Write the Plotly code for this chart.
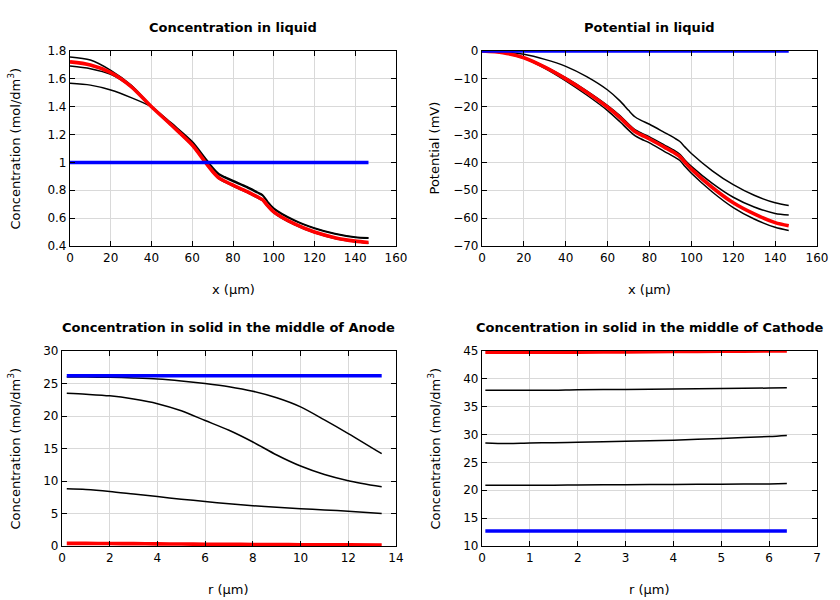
import plotly.graph_objects as go

# ---------------- data ----------------
# Liquid phase (x in µm)
x_liq = [0, 10, 20, 30, 40, 50, 60, 66, 70, 73, 76, 80, 87, 92, 94.5, 97, 100, 110, 120, 130, 140, 146.5]

conc_liq_init = [1.0] * len(x_liq)
conc_liq_t1 = [1.568, 1.555, 1.52, 1.465, 1.398, 1.272, 1.142, 1.03, 0.955, 0.912, 0.89, 0.863, 0.818, 0.781, 0.762, 0.715, 0.667, 0.582, 0.526, 0.486, 0.461, 0.455]
conc_liq_t2 = [1.692, 1.673, 1.632, 1.54, 1.398, 1.26, 1.12, 1.005, 0.93, 0.884, 0.858, 0.83, 0.783, 0.745, 0.726, 0.683, 0.638, 0.553, 0.494, 0.454, 0.43, 0.42]
conc_liq_t3 = [1.757, 1.735, 1.661, 1.555, 1.405, 1.28, 1.15, 1.04, 0.965, 0.92, 0.897, 0.87, 0.825, 0.787, 0.768, 0.72, 0.672, 0.587, 0.53, 0.49, 0.465, 0.46]
conc_liq_final = [1.722, 1.70, 1.645, 1.545, 1.40, 1.265, 1.125, 1.01, 0.935, 0.89, 0.865, 0.837, 0.79, 0.752, 0.733, 0.69, 0.645, 0.56, 0.50, 0.46, 0.435, 0.425]

pot_init = [0.0] * len(x_liq)
pot_t1 = [0, -0.3, -1.2, -3.0, -5.5, -9.2, -14.0, -18.0, -21.3, -23.6, -24.9, -26.3, -29.2, -31.3, -32.5, -34.5, -36.8, -43.0, -48.0, -51.8, -54.5, -55.5]
pot_t2 = [0, -0.55, -2.3, -5.5, -9.6, -14.3, -19.6, -23.3, -26.2, -28.2, -29.4, -30.8, -33.7, -35.8, -37.1, -39.2, -41.4, -47.5, -52.5, -56.0, -58.3, -58.9]
pot_t3 = [0, -0.7, -2.6, -6.2, -10.7, -15.8, -21.4, -25.5, -28.4, -30.4, -31.6, -33.0, -36.0, -38.1, -39.3, -41.5, -43.9, -50.6, -56.2, -60.3, -63.3, -64.4]
pot_final = [0, -0.6, -2.4, -5.8, -10.0, -14.8, -20.2, -24.0, -26.9, -28.9, -30.1, -31.6, -34.5, -36.6, -37.9, -40.0, -42.4, -49.0, -54.5, -58.5, -61.6, -62.7]

# Solid phase, anode particle (r in µm)
r_an = [0.2, 1, 2, 3, 4, 5, 6, 7, 8, 9, 10, 11, 12, 13.4]
an_init = [26.2] * len(r_an)
an_t1 = [26.0, 26.0, 25.95, 25.85, 25.7, 25.4, 25.0, 24.5, 23.8, 22.8, 21.4, 19.4, 17.3, 14.2]
an_t2 = [23.5, 23.35, 23.1, 22.6, 21.9, 20.8, 19.3, 17.8, 16.0, 14.0, 12.3, 11.0, 10.05, 9.1]
an_t3 = [8.8, 8.7, 8.4, 8.0, 7.6, 7.2, 6.85, 6.5, 6.2, 5.95, 5.75, 5.55, 5.35, 5.0]
an_final = [0.4, 0.4, 0.38, 0.36, 0.33, 0.3, 0.28, 0.26, 0.24, 0.22, 0.2, 0.18, 0.17, 0.15]

# Solid phase, cathode particle (r in µm)
r_ca = [0.07, 0.5, 1, 1.5, 2, 3, 4, 5, 6, 6.37]
ca_init = [12.7] * len(r_ca)
ca_t1 = [20.9, 20.9, 20.9, 20.9, 20.95, 21.0, 21.05, 21.1, 21.15, 21.2]
ca_t2 = [28.5, 28.4, 28.5, 28.55, 28.6, 28.8, 29.0, 29.3, 29.65, 29.85]
ca_t3 = [37.95, 37.95, 37.95, 37.95, 38.05, 38.1, 38.2, 38.25, 38.35, 38.4]
ca_final = [44.8, 44.8, 44.8, 44.8, 44.8, 44.85, 44.9, 44.95, 45.0, 45.0]

titles = ["Concentration in liquid", "Potential in liquid",
          "Concentration in solid in the middle of Anode",
          "Concentration in solid in the middle of Cathode"]
xtitles = ["x (µm)", "x (µm)", "r (µm)", "r (µm)"]
ytitles = ["Concentration (mol/dm<sup>3</sup>)", "Potential (mV)",
           "Concentration (mol/dm<sup>3</sup>)", "Concentration (mol/dm<sup>3</sup>)"]

# ---------------- figure ----------------
W, H = 840, 600
fig = go.Figure()

BLACK, RED, BLUE = "#000000", "#ff0000", "#0000ff"


def add(n, x, ys_black, y_final, y_init):
    xa = "x" if n == 1 else f"x{n}"
    ya = "y" if n == 1 else f"y{n}"
    for yb in ys_black:
        fig.add_trace(go.Scatter(x=x, y=yb, xaxis=xa, yaxis=ya, mode="lines",
                                 line=dict(color=BLACK, width=1.5, shape="spline", smoothing=0.8),
                                 showlegend=False, hoverinfo="skip"))
    fig.add_trace(go.Scatter(x=x, y=y_final, xaxis=xa, yaxis=ya, mode="lines",
                             line=dict(color=RED, width=3.6, shape="spline", smoothing=0.8),
                             showlegend=False, hoverinfo="skip"))
    fig.add_trace(go.Scatter(x=x, y=y_init, xaxis=xa, yaxis=ya, mode="lines",
                             line=dict(color=BLUE, width=3.6), showlegend=False, hoverinfo="skip"))


add(1, x_liq, [conc_liq_t1, conc_liq_t2, conc_liq_t3], conc_liq_final, conc_liq_init)
add(2, x_liq, [pot_t1, pot_t2, pot_t3], pot_final, pot_init)
add(3, r_an, [an_t1, an_t2, an_t3], an_final, an_init)
add(4, r_ca, [ca_t1, ca_t2, ca_t3], ca_final, ca_init)

# pixel boxes of the plot areas: (left, right, top, bottom)
boxes = [(70, 396, 51, 246), (482, 817, 51, 246), (62, 396, 351, 546), (482, 817, 351, 546)]
xranges = [[0, 160], [0, 160], [0, 14], [0, 7]]
yranges = [[0.4, 1.8], [-70, 0], [0, 30], [10, 45]]
xdt = [20, 20, 2, 1]
ydt = [0.2, 10, 5, 5]


def px(v):
    return v / W


def py(v):
    return 1 - v / H


FONT = "DejaVu Sans"
axis_common = dict(showline=True, linecolor="#000000", linewidth=1.2, mirror="allticks",
                   ticks="inside", ticklen=5, tickcolor="#000000", tickwidth=1,
                   showgrid=True, gridcolor="#d9d9d9", gridwidth=1, zeroline=False,
                   automargin=False,
                   tickfont=dict(family=FONT, size=12, color="#000000"))

layout = dict(template="none", width=W, height=H,
              margin=dict(l=0, r=0, t=0, b=0, pad=0, autoexpand=False),
              paper_bgcolor="white", plot_bgcolor="white", autosize=False,
              font=dict(family=FONT, size=12, color="#000000"))
annotations = []
for i, (l, r, t, b) in enumerate(boxes):
    n = i + 1
    xk = "xaxis" if n == 1 else f"xaxis{n}"
    yk = "yaxis" if n == 1 else f"yaxis{n}"
    ya = "y" if n == 1 else f"y{n}"
    xa = "x" if n == 1 else f"x{n}"
    layout[xk] = dict(domain=[px(l), px(r)], range=xranges[i], dtick=xdt[i], tick0=0,
                      anchor=ya, **axis_common)
    layout[yk] = dict(domain=[py(b), py(t)], range=yranges[i], dtick=ydt[i], tick0=0,
                      anchor=xa, **axis_common)
    cx = (l + r) / 2
    annotations.append(dict(text=f"<b>{titles[i]}</b>", x=px(cx), y=py(t - 24),
                            xref="paper", yref="paper", showarrow=False,
                            xanchor="center", yanchor="middle",
                            font=dict(family=FONT, size=13, color="#000000")))
    annotations.append(dict(text=xtitles[i], x=px(cx), y=py(b + 43),
                            xref="paper", yref="paper", showarrow=False,
                            xanchor="center", yanchor="middle",
                            font=dict(family=FONT, size=13, color="#000000")))
    ytx = 14 if l < 200 else 434
    annotations.append(dict(text=ytitles[i], x=px(ytx), y=py((t + b) / 2),
                            xref="paper", yref="paper", showarrow=False, textangle=-90,
                            xanchor="center", yanchor="middle",
                            font=dict(family=FONT, size=13, color="#000000")))
layout["annotations"] = annotations
fig.update_layout(**layout)

fig.write_html("out.html")
